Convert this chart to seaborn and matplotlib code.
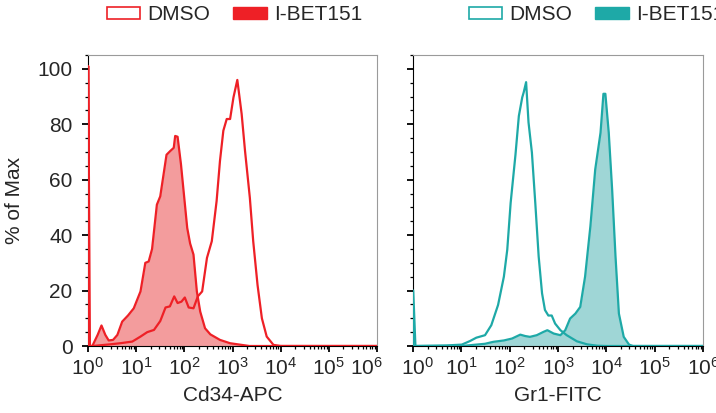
import numpy as np
import pandas as pd
import matplotlib
matplotlib.use("Agg")
import matplotlib.pyplot as plt
import matplotlib.ticker as mticker
import matplotlib.transforms as mtransforms
from matplotlib.patches import Patch
import seaborn as sns

# ---- data: log10 fluorescence vs % of max ----
# Cd34-APC, DMSO (open curve)
cd34_dmso_log = [0.0, 0.005, 0.04, 0.1, 0.46, 0.67, 0.92, 1.09, 1.23, 1.37, 1.50, 1.61, 1.70,
                 1.79, 1.86, 1.94, 2.01, 2.09, 2.19, 2.28, 2.37, 2.47, 2.57, 2.67, 2.74,
                 2.81, 2.88, 2.95, 3.02, 3.10, 3.19, 3.26, 3.36, 3.43, 3.52, 3.61, 3.71,
                 3.85, 4.0, 6.0]
cd34_dmso_pct = [0, 101, 0, 0, 0.6, 1.0, 1.6, 3.4, 5.0, 5.8, 9.0, 13.9, 14.3,
                 17.9, 15.5, 16.0, 17.5, 13.9, 13.6, 17.9, 19.7, 31.8, 37.8, 52.3, 66.8,
                 77.7, 81.9, 81.9, 89.7, 96.0, 83.7, 70.4, 53.5, 37.8, 22.0, 10.0, 3.4,
                 0.4, 0, 0]
# Cd34-APC, I-BET151 (filled curve)
cd34_ibet_log = [0.0, 0.09, 0.2, 0.28, 0.36, 0.43, 0.52, 0.61, 0.71, 0.83, 0.95, 1.09, 1.19,
                 1.26, 1.33, 1.43, 1.50, 1.63, 1.71, 1.78, 1.81, 1.86, 1.93, 2.06, 2.12,
                 2.19, 2.26, 2.33, 2.43, 2.54, 2.74, 2.95, 3.19, 3.35, 6.0]
cd34_ibet_pct = [0, 0, 4.0, 7.4, 4.0, 2.0, 2.2, 4.0, 8.8, 11.0, 13.6, 19.7, 30.0,
                 30.5, 35.0, 51.0, 54.0, 69.0, 70.4, 71.5, 75.8, 75.5, 65.6, 42.6, 37.0,
                 33.0, 19.7, 12.4, 6.4, 4.2, 2.2, 1.0, 0.4, 0, 0]

# Gr1-FITC, DMSO (open curve)
gr1_dmso_log = [0.0, 0.005, 0.05, 0.69, 1.01, 1.18, 1.31, 1.49, 1.62, 1.76, 1.88, 1.95,
                2.02, 2.12, 2.19, 2.26, 2.29, 2.34, 2.39, 2.46, 2.53, 2.60, 2.67, 2.73,
                2.80, 2.87, 2.94, 3.05, 3.18, 3.39, 3.60, 3.81, 4.0, 6.0]
gr1_dmso_pct = [0, 20, 0, 0.2, 0.5, 1.8, 3.0, 3.9, 7.5, 14.8, 25.0, 34.7,
                51.6, 69.0, 83.0, 89.7, 91.5, 95.2, 80.7, 69.8, 51.6, 32.3, 19.0, 13.0,
                11.0, 11.0, 8.1, 5.7, 3.9, 1.7, 0.6, 0.1, 0, 0]
# Gr1-FITC, I-BET151 (filled curve)
gr1_ibet_log = [0.0, 1.01, 1.49, 1.66, 1.88, 2.05, 2.22, 2.32, 2.42, 2.56, 2.70, 2.78,
                2.91, 3.05, 3.15, 3.25, 3.36, 3.46, 3.56, 3.67, 3.77, 3.88, 3.94, 3.98,
                4.05, 4.12, 4.19, 4.26, 4.36, 4.47, 4.55, 6.0]
gr1_ibet_pct = [0, 0, 0.8, 1.5, 2.0, 2.7, 4.1, 3.6, 3.3, 3.9, 5.1, 5.7,
                4.5, 3.9, 5.7, 9.9, 11.7, 14.1, 25.0, 43.2, 63.7, 77.0, 91.0, 91.0,
                77.0, 56.5, 32.3, 11.7, 3.3, 0.5, 0, 0]

decades = [0, 1, 2, 3, 4, 5, 6]

panels = [
    ("Cd34-APC", cd34_dmso_log, cd34_dmso_pct, cd34_ibet_log, cd34_ibet_pct,
     "#EE2026", "#F39C9D"),
    ("Gr1-FITC", gr1_dmso_log, gr1_dmso_pct, gr1_ibet_log, gr1_ibet_pct,
     "#1EA9A7", "#9FD6D6"),
]
legend_x = [107 / 716, 469 / 716]

sns.set_style("ticks")
plt.rcParams["font.family"] = ["Liberation Sans", "DejaVu Sans"]
plt.rcParams["mathtext.fontset"] = "custom"
plt.rcParams["mathtext.rm"] = "Liberation Sans"
plt.rcParams["mathtext.it"] = "Liberation Sans:italic"

fig = plt.figure(figsize=(7.16, 4.13), dpi=100)
axes = [fig.add_axes([88 / 716, 1 - 346 / 413, 289 / 716, 291 / 413]),
        fig.add_axes([413 / 716, 1 - 346 / 413, 290 / 716, 291 / 413])]

for i, (ax, (xlab, dlog, dpct, ilog, ipct, line_c, fill_c)) in enumerate(zip(axes, panels)):
    dmso = pd.DataFrame({"x": 10 ** np.array(dlog), "y": dpct})
    ibet = pd.DataFrame({"x": 10 ** np.array(ilog), "y": ipct})

    ax.fill_between(ibet["x"], 0, ibet["y"], color=fill_c, lw=0, zorder=1)
    sns.lineplot(data=ibet, x="x", y="y", ax=ax, color=line_c, lw=1.6,
                 sort=False, estimator=None, zorder=3)
    sns.lineplot(data=dmso, x="x", y="y", ax=ax, color=line_c, lw=1.6,
                 sort=False, estimator=None, zorder=4)

    ax.set_xscale("log")
    ax.set_xlim(1, 1e6)
    ax.set_ylim(0, 105)
    ax.xaxis.set_major_locator(mticker.FixedLocator([10.0 ** d for d in decades]))
    ax.xaxis.set_minor_locator(mticker.LogLocator(base=10, subs=np.arange(2, 10), numticks=20))
    ax.xaxis.set_major_formatter(mticker.FixedFormatter([r"$10^{%d}$" % d for d in decades]))
    ax.xaxis.set_minor_formatter(mticker.NullFormatter())
    ax.yaxis.set_major_locator(mticker.MultipleLocator(20))
    ax.yaxis.set_minor_locator(mticker.MultipleLocator(5))

    for side in ["top", "right"]:
        ax.spines[side].set_color("#9a9a9a")
        ax.spines[side].set_linewidth(0.8)
    for side in ["left", "bottom"]:
        ax.spines[side].set_color("black")
        ax.spines[side].set_linewidth(0.8)
    ax.tick_params(axis="both", which="major", length=4, width=1.3, color="black",
                   labelsize=15)
    ax.tick_params(axis="y", which="major", pad=7)
    ax.tick_params(axis="x", which="major", pad=4)
    ax.tick_params(axis="both", which="minor", length=2.5, width=0.9, color="black")

    ax.set_xlabel(xlab, fontsize=15, labelpad=5)
    if i == 0:
        ax.set_ylabel("% of Max", fontsize=15, labelpad=10)
    else:
        ax.set_ylabel("")
        ax.set_yticklabels([])

    # nudge the end labels where the two panels meet
    fig.canvas.draw()
    ticks = ax.xaxis.get_major_ticks()
    if i == 0:
        lab = ticks[len(decades) - 1].label1
        dx = -11
    else:
        lab = ticks[0].label1
        dx = 5
    shift = mtransforms.ScaledTranslation(dx / 100, 0, fig.dpi_scale_trans)
    lab.set_transform(lab.get_transform() + shift)

    handles = [Patch(facecolor="white", edgecolor=line_c, lw=1.2, label="DMSO"),
               Patch(facecolor=line_c, edgecolor=line_c, label="I-BET151")]
    ax.legend(handles=handles, loc="center left", bbox_to_anchor=(legend_x[i], 1 - 15 / 413),
              bbox_transform=fig.transFigure, ncol=2, frameon=False, fontsize=15,
              borderaxespad=0, borderpad=0, handlelength=1.6, handleheight=0.55,
              handletextpad=0.35, columnspacing=1.1)

fig.savefig("out.png", dpi=100)
